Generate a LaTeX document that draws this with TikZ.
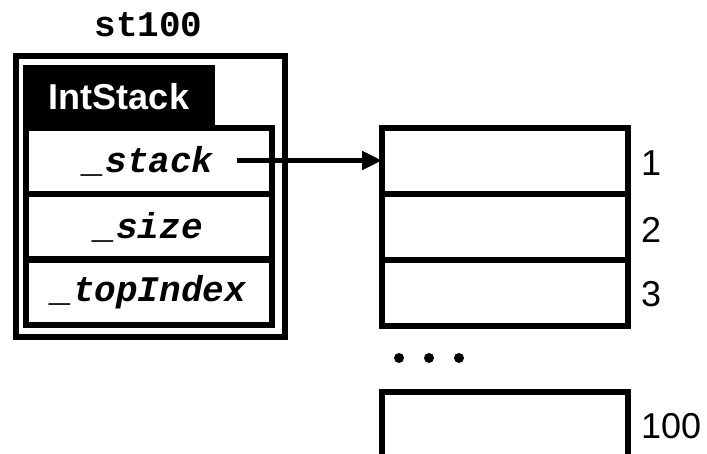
\documentclass[tikz,border=0pt]{standalone}
\usepackage{fontspec}
\setmainfont{Liberation Sans}
\setsansfont{Liberation Sans}
\setmonofont{Liberation Mono}
\usetikzlibrary{arrows.meta}
\tikzset{
  frame/.style={draw, line width=6pt, inner sep=0pt, outer sep=0pt, rectangle},
  field/.style={frame, minimum width=245.5pt, minimum height=66pt,
    font=\fontsize{36}{40}\selectfont\ttfamily\bfseries\itshape},
  cell/.style={frame, minimum width=246pt, minimum height=66pt},
  idx/.style={anchor=west, inner sep=0pt, font=\fontsize{36}{40}\selectfont\sffamily},
  dotmark/.style={circle, fill=black, inner sep=0pt, minimum size=10pt},
}
\begin{document}
\begin{tikzpicture}[x=1pt, y=-1pt]
\useasboundingbox (0,0) rectangle (707,454);
\clip (0,0) rectangle (707,454);

% variable name
\node[font=\fontsize{36}{40}\selectfont\ttfamily\bfseries, inner sep=0pt] (name) at (148.5,25) {st100};

% object frame
\node[frame, minimum width=268.5pt, minimum height=281pt] (obj) at (150.25,196.5) {};

% class header
\node[fill=black, inner sep=0pt, minimum width=192pt, minimum height=63pt,
      text=white, font=\fontsize{36}{40}\selectfont\sffamily\bfseries] (cls) at (119,96.5) {IntStack};

% member fields
\node[field] (stack) at (148.75,161) {\_stack};
\node[field] (size) at (148.75,227) {\_size};
\node[field] (top) at (148.75,292.5) {\_topIndex};

% array cells
\node[cell] (c1) at (505,161) {};
\node[cell] (c2) at (505,227) {};
\node[cell] (c3) at (505,293) {};
\node[cell] (c100) at (505,425) {};

% indices
\node[idx] (i1) at (641,163) {1};
\node[idx] (i2) at (641,229.5) {2};
\node[idx] (i3) at (641,294.5) {3};
\node[idx] (i100) at (641,426.5) {100};

% ellipsis
\node[dotmark] (d1) at (399,358) {};
\node[dotmark] (d2) at (429,358) {};
\node[dotmark] (d3) at (459,358) {};

% pointer
\coordinate (ptr) at (237,160.5);
\draw[line width=5pt, -{Triangle[length=20pt,width=18pt]}] (ptr) -- (c1.west |- ptr);
\end{tikzpicture}
\end{document}
